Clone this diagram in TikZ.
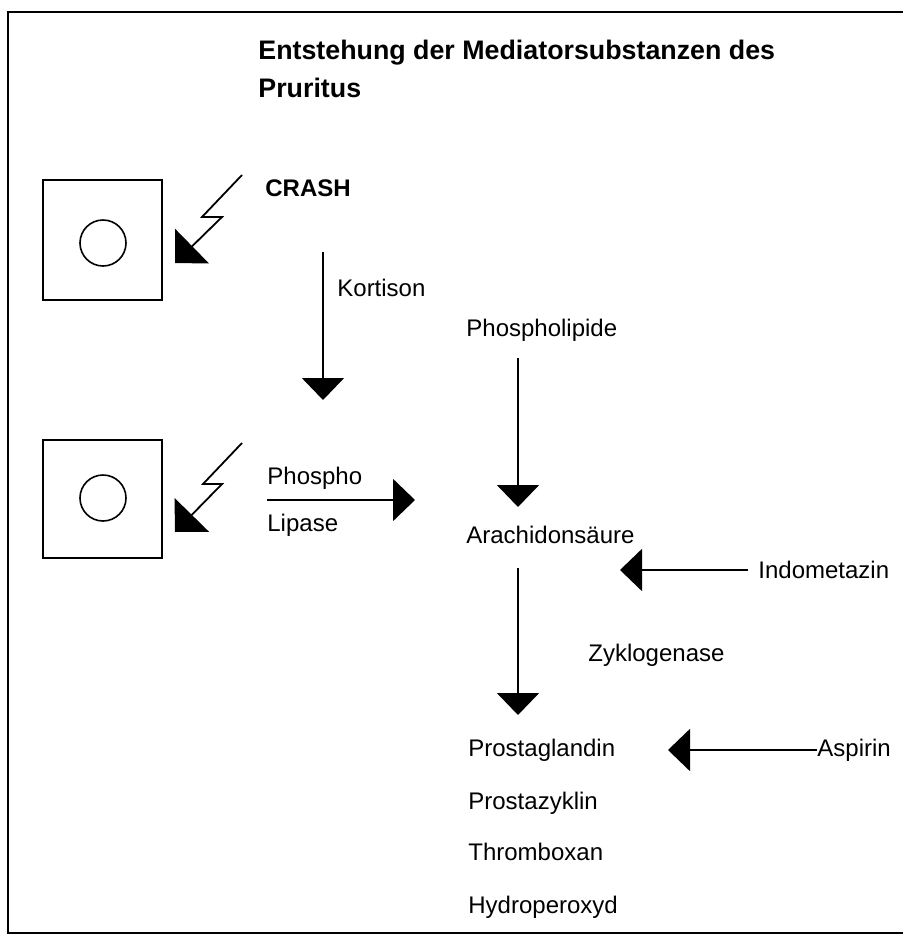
\documentclass[tikz,border=0pt]{standalone}
\usepackage{fontspec}
\setmainfont{Liberation Sans}
\usetikzlibrary{arrows.meta}

\tikzset{
  label text/.style={anchor=west, inner sep=0pt, font=\fontsize{12}{14}\selectfont},
  flow/.style={line width=0.9pt, -{Triangle[length=11pt, width=21pt]}},
  flash/.style={line width=0.9pt, -{Triangle[length=12pt, width=24pt]}},
}

\begin{document}
\begin{tikzpicture}[x=0.5pt, y=-0.5pt]
                    \useasboundingbox (0,0) rectangle (903,938);
                    % frame
                    \draw[line width=1pt] (903,12) -- (8,12) -- (8,933) -- (903,933);
                    % title
                    \node[anchor=west, inner sep=0pt, align=left, font=\bfseries\fontsize{13.4}{19}\selectfont] (title) at (258,69) {Entstehung der Mediatorsubstanzen des\\Pruritus};
                    % cells
                    \draw[line width=0.9pt] (43,180) rectangle (162,300);
                    \draw[line width=0.8pt] (103,243) circle (23);
                    \draw[line width=0.9pt] (43,440) rectangle (162,558);
                    \draw[line width=0.8pt] (103,498) circle (23);
                    % flashes
                    \draw[flash] (242,175) -- (202,217) -- (222,217) -- (175,263);
                    \draw[flash] (242,443) -- (203,484) -- (222,484) -- (175,532);
                    % texts
                    \node[label text, font=\bfseries\fontsize{12}{14}\selectfont] (crash) at (265,188) {CRASH};
                    \node[label text] (kortison) at (337,288) {Kortison};
                    \node[label text] (phospho) at (267,478) {Phospho};
                    \node[label text] (lipase) at (267,525) {Lipase};
                    \node[label text] (phospholipide) at (466,330) {Phospholipide};
                    \node[label text] (arachidon) at (466,535) {Arachidonsäure};
                    \node[label text] (indometazin) at (758,570) {Indometazin};
                    \node[label text] (zyklo) at (588,655) {Zyklogenase};
                    \node[label text] (prostaglandin) at (468,750) {Prostaglandin};
                    \node[label text] (aspirin) at (817,750) {Aspirin};
                    \node[label text] (prostazyklin) at (468,803) {Prostazyklin};
                    \node[label text] (thromboxan) at (468,852) {Thromboxan};
                    \node[label text] (hydroperoxyd) at (468,907) {Hydroperoxyd};
                    % arrow ends
                    \coordinate (K1) at (323,252);
                    \coordinate (K2) at (323,400);
                    \coordinate (L1) at (267,500);
                    \coordinate (L2) at (415,500);
                    \coordinate (A1) at (518,358);
                    \coordinate (A2) at (518,507);
                    \coordinate (Z1) at (518,568);
                    \coordinate (Z2) at (518,715);
                    \coordinate (I2) at (620,570);
                    \coordinate (S2) at (668,750);
                    % arrows
                    \draw[flow] (K1) -- (K2);
                    \draw[flow] (L1) -- (L2);
                    \draw[flow] (A1) -- (A2);
                    \draw[flow] (Z1) -- (Z2);
                    \draw[flow] ([xshift=-5]indometazin.west) -- (I2);
                    \draw[flow] (aspirin.west) -- (S2);
                \end{tikzpicture}
\end{document}
